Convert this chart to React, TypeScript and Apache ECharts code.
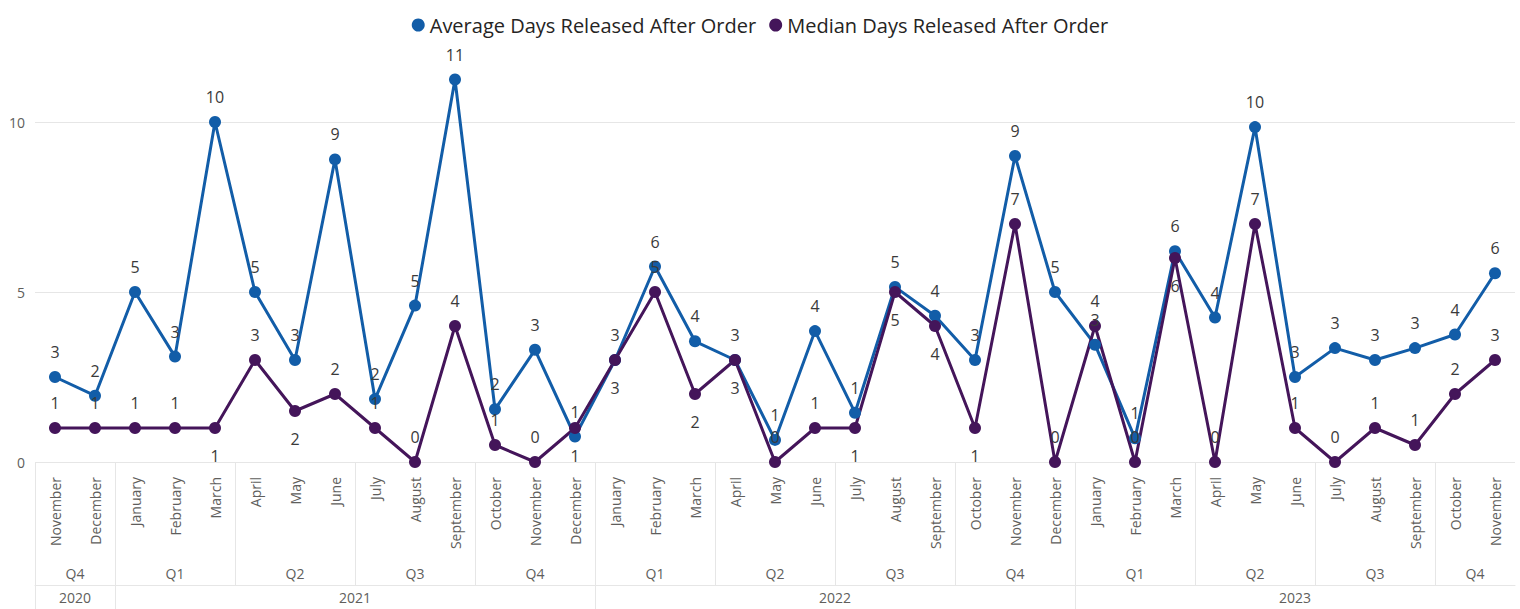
import React, { useEffect, useRef } from "react";
import * as echarts from "echarts";

const months = [
  "November", "December",
  "January", "February", "March", "April", "May", "June", "July", "August", "September", "October", "November", "December",
  "January", "February", "March", "April", "May", "June", "July", "August", "September", "October", "November", "December",
  "January", "February", "March", "April", "May", "June", "July", "August", "September", "October", "November",
];
const quarterLabels = ["Q4", "Q1", "Q2", "Q3", "Q4", "Q1", "Q2", "Q3", "Q4", "Q1", "Q2", "Q3", "Q4"];
const quarterSizes = [2, 3, 3, 3, 3, 3, 3, 3, 3, 3, 3, 3, 2];
const yearLabels = ["2020", "2021", "2022", "2023"];
const yearSizes = [2, 12, 12, 11];

const averageDays = [
  2.5, 1.95, 5.0, 3.1, 10.0, 5.0, 3.0, 8.9, 1.85, 4.6, 11.25, 1.55, 3.3, 0.75,
  3.0, 5.75, 3.55, 3.0, 0.65, 3.85, 1.45, 5.15, 4.3, 3.0, 9.0, 5.0,
  3.45, 0.7, 6.2, 4.25, 9.85, 2.5, 3.35, 3.0, 3.35, 3.75, 5.55,
];
const medianDays = [
  1, 1, 1, 1, 1, 3, 1.5, 2, 1, 0, 4, 0.5, 0, 1,
  3, 5, 2, 3, 0, 1, 1, 5, 4, 1, 7, 0,
  4, 0, 6, 0, 7, 1, 0, 1, 0.5, 2, 3,
];
// indices of median points whose label sits below the marker
const medianLabelsBelow = [4, 6, 13, 14, 16, 17, 20, 21, 22, 23, 28];

const FONT = '"Segoe UI", "Open Sans", sans-serif';
const BLUE = "#125DA8";
const PURPLE = "#44155A";
const GRID_LINE = "#E6E6E6";
const AXIS_TEXT = "#605E5C";

function groupBounds(sizes: number[]) {
  const bounds: number[] = [];
  const centers: number[] = [];
  let start = 0;
  for (const s of sizes) {
    bounds.push(start - 0.5);
    centers.push(start + (s - 1) / 2);
    start += s;
  }
  return { bounds, centers };
}

export default function App() {
  const ref = useRef<HTMLDivElement>(null);
  useEffect(() => {
    if (!ref.current) return;
    const chart = echarts.init(ref.current, undefined, { renderer: "svg" });
    const q = groupBounds(quarterSizes);
    const y = groupBounds(yearSizes);
    const qMap = new Map<number, string>();
    q.centers.forEach((c, i) => qMap.set(c, quarterLabels[i]));
    const yMap = new Map<number, string>();
    y.centers.forEach((c, i) => yMap.set(c, yearLabels[i]));
    const below = new Set(medianLabelsBelow);
    const labelBase = {
      show: true,
      position: "top",
      distance: 11,
      fontSize: 16,
      color: "#3A3A3A",
      fontFamily: FONT,
      formatter: (p: any) => String(Math.round(p.value)),
    };
    const n = months.length;

    chart.setOption({
      animation: false,
      textStyle: { fontFamily: FONT },
      legend: {
        top: 10,
        left: "center",
        icon: "circle",
        itemWidth: 13,
        itemHeight: 13,
        itemGap: 13,
        textStyle: { fontSize: 20, color: "#252423", fontFamily: FONT },
        data: ["Average Days Released After Order", "Median Days Released After Order"],
      },
      grid: { left: 35, right: 5, top: 54, bottom: 147 },
      xAxis: [
        {
          type: "category",
          data: months,
          position: "bottom",
          axisLine: { show: false },
          axisTick: { show: false },
          splitLine: { show: false },
          axisLabel: {
            rotate: 90,
            margin: 15,
            interval: 0,
            fontSize: 14,
            color: AXIS_TEXT,
            fontFamily: FONT,
          },
        },
        {
          type: "value",
          min: -0.5,
          max: n - 0.5,
          position: "bottom",
          offset: 0,
          axisLine: { show: false },
          splitLine: { show: false },
          axisTick: {
            show: true,
            customValues: q.bounds,
            length: 123,
            lineStyle: { color: GRID_LINE, width: 1 },
          },
          axisLabel: {
            customValues: q.centers,
            margin: 104,
            fontSize: 14,
            color: AXIS_TEXT,
            fontFamily: FONT,
            formatter: (v: number) => qMap.get(v) ?? "",
          },
        },
        {
          type: "value",
          min: -0.5,
          max: n - 0.5,
          position: "bottom",
          offset: 123,
          axisLine: { show: true, lineStyle: { color: GRID_LINE, width: 1 } },
          splitLine: { show: false },
          axisTick: {
            show: true,
            customValues: y.bounds,
            length: 24,
            lineStyle: { color: GRID_LINE, width: 1 },
          },
          axisLabel: {
            customValues: y.centers,
            margin: 5,
            fontSize: 14,
            color: AXIS_TEXT,
            fontFamily: FONT,
            formatter: (v: number) => yMap.get(v) ?? "",
          },
        },
      ],
      yAxis: {
        type: "value",
        min: 0,
        max: 12,
        interval: 5,
        axisLine: { show: false },
        axisTick: { show: false },
        splitLine: { show: true, showMaxLine: false, lineStyle: { color: GRID_LINE, width: 1 } },
        axisLabel: {
          showMaxLabel: false,
          margin: 10,
          fontSize: 14,
          color: AXIS_TEXT,
          fontFamily: FONT,
        },
      },
      series: [
        {
          name: "Average Days Released After Order",
          type: "line",
          xAxisIndex: 0,
          data: averageDays,
          symbol: "circle",
          symbolSize: 12,
          itemStyle: { color: BLUE },
          lineStyle: { color: BLUE, width: 3 },
          label: labelBase,
        },
        {
          name: "Median Days Released After Order",
          type: "line",
          xAxisIndex: 0,
          data: medianDays.map((v, i) =>
            below.has(i) ? { value: v, label: { position: "bottom", distance: 14 } } : v
          ),
          symbol: "circle",
          symbolSize: 12,
          itemStyle: { color: PURPLE },
          lineStyle: { color: PURPLE, width: 3 },
          label: labelBase,
        },
      ],
    });
    return () => chart.dispose();
  }, []);
  return (
    <div
      ref={ref}
      style={{ position: "fixed", left: 0, top: 0, width: 1520, height: 609, background: "#fff" }}
    />
  );
}
